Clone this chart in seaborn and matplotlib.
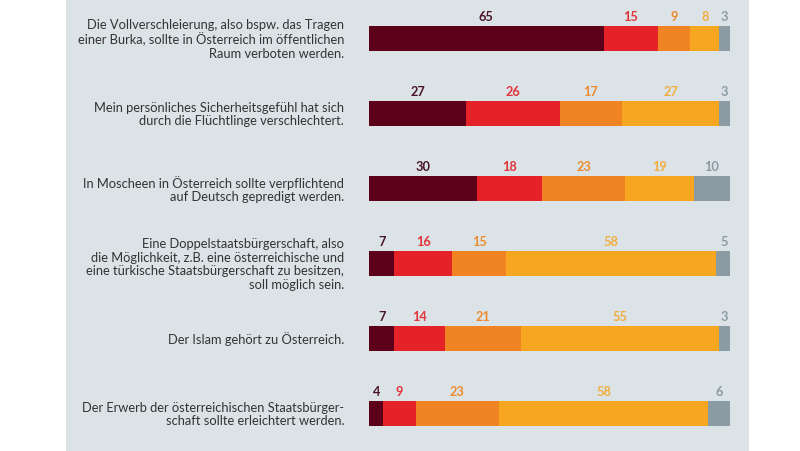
import matplotlib
matplotlib.use("Agg")
import matplotlib.pyplot as plt
from matplotlib.patches import Rectangle
import seaborn as sns
import numpy as np
import pandas as pd

statements = [
    "Die Vollverschleierung, also bspw. das Tragen\neiner Burka, sollte in Österreich im öffentlichen\nRaum verboten werden.",
    "Mein persönliches Sicherheitsgefühl hat sich\ndurch die Flüchtlinge verschlechtert.",
    "In Moscheen in Österreich sollte verpflichtend\nauf Deutsch gepredigt werden.",
    "Eine Doppelstaatsbürgerschaft, also\ndie Möglichkeit, z.B. eine österreichische und\neine türkische Staatsbürgerschaft zu besitzen,\nsoll möglich sein.",
    "Der Islam gehört zu Österreich.",
    "Der Erwerb der österreichischen Staatsbürger-\nschaft sollte erleichtert werden.",
]
cat1 = [65, 27, 30, 7, 7, 4]
cat2 = [15, 26, 18, 16, 14, 9]
cat3 = [9, 17, 23, 15, 21, 23]
cat4 = [8, 27, 19, 58, 55, 58]
cat5 = [3, 3, 10, 5, 3, 6]

series = [cat1, cat2, cat3, cat4, cat5]
bar_colors = ["#5c0019", "#e42228", "#f08423", "#f6a71f", "#8a9ba4"]
text_colors = ["#4a1426", "#e2333b", "#ee8a2e", "#f2ad3e", "#8a9ba4"]

plt.rcParams['font.family'] = ['Lato', 'DejaVu Sans']

fig = plt.figure(figsize=(8, 4.52), dpi=100, facecolor="white")
bg = Rectangle((66/800, 0), (749-66)/800, 1, transform=fig.transFigure,
               facecolor="#dce3e6", edgecolor="none", zorder=-10)
fig.add_artist(bg)
ax = fig.add_axes([369/800, 0, 361/800, 450/452])
ax.set_zorder(1)
ax.set_facecolor("none")

vals = np.array(series, dtype=float)
cums = np.cumsum(vals, axis=0)
lefts = cums - vals

for k in range(len(series) - 1, -1, -1):
    df = pd.DataFrame({"stmt": statements, "v": cums[k]})
    sns.barplot(data=df, x="v", y="stmt", color=bar_colors[k], orient="h",
                width=0.333, saturation=1, ax=ax, order=statements)

for i, s in enumerate(statements):
    ax.text(-6.9, i, s, ha="right", va="center", multialignment="right",
            fontsize=9.3, color="#333333", linespacing=1.15, clip_on=False)
    for k in range(len(series)):
        ax.text(lefts[k][i] + vals[k][i] / 2, i - 0.3, f"{int(vals[k][i])}",
                ha="center", va="center", fontsize=9.2, fontweight="bold",
                color=text_colors[k])

ax.set_xlim(0, 100)
ax.set_ylim(5.5, -0.5)
ax.axis("off")

fig.savefig("out.png", dpi=100, facecolor="white")
